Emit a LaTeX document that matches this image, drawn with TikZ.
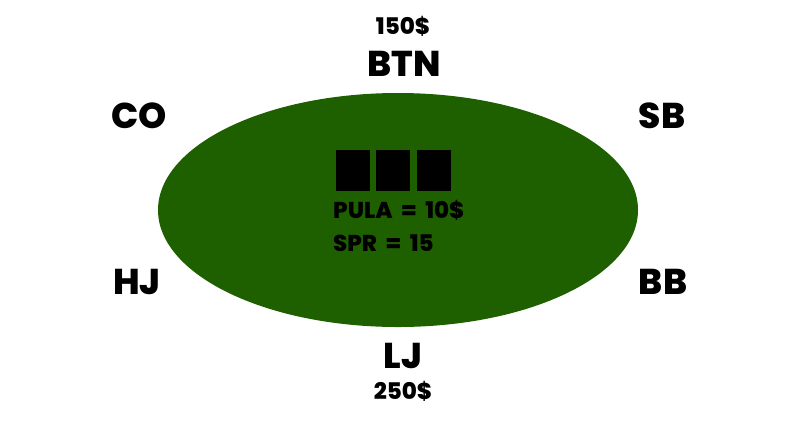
\documentclass[tikz,border=0pt]{standalone}
\usepackage{fontspec}
\setmainfont{Poppins}[BoldFont={Poppins ExtraBold}]
\newfontfamily\infofont{Poppins ExtraBold}[WordSpace=2]
\definecolor{tablegreen}{RGB}{30,95,0}

\begin{document}
\begin{tikzpicture}[x=1bp,y=-1bp,
        seat/.style={anchor=base,inner sep=0pt,font=\fontsize{36}{36}\selectfont\bfseries},
        stack/.style={anchor=base,inner sep=0pt,font=\fontsize{23}{23}\selectfont\bfseries},
        info/.style={anchor=base west,inner sep=0pt,font=\fontsize{23}{23}\infofont},
        card/.style={fill=black,inner sep=0pt,minimum width=34bp,minimum height=41bp}]
        \useasboundingbox (0,0) rectangle (800,420);
        \fill[tablegreen] (398,210) ellipse [x radius=240, y radius=117];
        \node (stackbtn) at (403,34) [stack] {150\$};
        \node (btn) at (404,76) [seat] {BTN};
        \node (co) at (139,128) [seat] {CO};
        \node (sb) at (662,128) [seat] {SB};
        \node (hj) at (137,294) [seat] {HJ};
        \node (bb) at (663,294) [seat] {BB};
        \node (lj) at (403,368) [seat] {LJ};
        \node (stacklj) at (403,399) [stack] {250\$};
        \node (flop1) at (353,170) [card] {};
        \node (flop2) at (393,170) [card] {};
        \node (flop3) at (434,170) [card] {};
        \node (pot) at (333,218) [info] {PULA = 10\$};
        \node (spr) at (333,251) [info] {SPR = 15};
\end{tikzpicture}
\end{document}
